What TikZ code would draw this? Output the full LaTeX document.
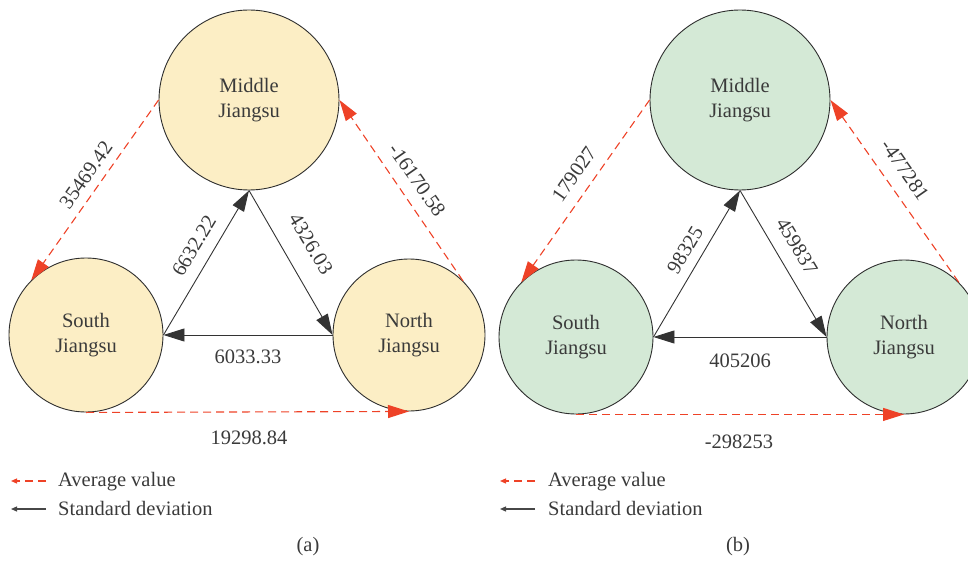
\documentclass[tikz,border=0pt]{standalone}
\usepackage{fontspec}
\setmainfont{Liberation Serif}
\usetikzlibrary{arrows.meta}
\definecolor{fillA}{HTML}{FCEEC5}
\definecolor{fillB}{HTML}{D4E9D6}
\definecolor{avgred}{HTML}{EE4227}
\definecolor{edgegray}{HTML}{2E2E2E}
\definecolor{arrowgray}{HTML}{333333}
\definecolor{txtgray}{HTML}{3A3A3A}
\begin{document}
\begin{tikzpicture}[x=1pt,y=-1pt,
  font=\fontsize{20.5}{25}\selectfont,
  region/.style={circle, draw=edgegray, line width=0.9pt, minimum size=#1,
    inner sep=0pt, align=center, text=txtgray},
  sdarrow/.style={draw=arrowgray, line width=0.9pt,
    -{Triangle[length=21pt,width=13pt]}},
  avgarrow/.style={draw=avgred, line width=1.1pt, dash pattern=on 8pt off 5pt,
    -{Triangle[length=21pt,width=13pt]}},
  sdleg/.style={draw=arrowgray!90, line width=1.2pt,
    -{Triangle[length=6pt,width=5pt]}},
  avgleg/.style={draw=avgred, line width=1.2pt, dash pattern=on 8pt off 5pt,
    -{Triangle[length=6pt,width=5pt]}},
  val/.style={text=txtgray, inner sep=0pt},
  legtext/.style={text=txtgray, inner sep=0pt, anchor=base west},
]
\useasboundingbox (0,0) rectangle (968,561);
\clip (0,0) rectangle (968,561);

% ---------- panel (a) ----------
\node[region=180pt, fill=fillA] (aM) at (249,100) {Middle\\Jiangsu};
\node[region=154pt, fill=fillA] (aS) at (86,335) {South\\Jiangsu};
\node[region=152pt, fill=fillA] (aN) at (409,335) {North\\Jiangsu};

\draw[sdarrow] (aS.east) -- (aM.south);
\draw[sdarrow] (aM.south) -- (aN.west);
\draw[sdarrow] (aN.west) -- (aS.east);
\draw[avgarrow] (aM.west) -- (aS.135);
\draw[avgarrow] (aS.south) -- (aN.south);
\draw[avgarrow] (aN.45) -- (aM.east);

\node[val, rotate=55] (aV1) at (86,175) {35469.42};
\node[val, rotate=-55] (aV2) at (417,180) {-16170.58};
\node[val, rotate=59] (aS1) at (194,246) {6632.22};
\node[val, rotate=-59] (aS2) at (311,244) {4326.03};
\node[val] (aS3) at (248,357) {6033.33};
\node[val] (aV3) at (249,438) {19298.84};

% legend (a)
\coordinate (aLr1) at (46,481);
\coordinate (aLr2) at (11,481);
\coordinate (aLb1) at (46,509);
\coordinate (aLb2) at (11,509);
\draw[avgleg] (aLr1) -- (aLr2);
\draw[sdleg] (aLb1) -- (aLb2);
\node[legtext] (aT1) at (58,486) {Average value};
\node[legtext] (aT2) at (58,515) {Standard deviation};
\node[val] (aCap) at (308,547) {(a)};

% ---------- panel (b) ----------
\node[region=180pt, fill=fillB] (bM) at (740,100) {Middle\\Jiangsu};
\node[region=154pt, fill=fillB] (bS) at (576,337) {South\\Jiangsu};
\node[region=154pt, fill=fillB] (bN) at (904,337) {North\\Jiangsu};

\draw[sdarrow] (bS.east) -- (bM.south);
\draw[sdarrow] (bM.south) -- (bN.west);
\draw[sdarrow] (bN.west) -- (bS.east);
\draw[avgarrow] (bM.west) -- (bS.135);
\draw[avgarrow] (bS.south) -- (bN.south);
\draw[avgarrow] (bN.45) -- (bM.east);

\node[val, rotate=55] (bV1) at (574,174) {179027};
\node[val, rotate=-55] (bV2) at (905,170) {-477281};
\node[val, rotate=59] (bS1) at (685,250) {98325};
\node[val, rotate=-59] (bS2) at (797,246) {459837};
\node[val] (bS3) at (740,361) {405206};
\node[val] (bV3) at (739,442) {-298253};

% legend (b)
\coordinate (bLr1) at (535,481);
\coordinate (bLr2) at (500,481);
\coordinate (bLb1) at (535,509);
\coordinate (bLb2) at (500,509);
\draw[avgleg] (bLr1) -- (bLr2);
\draw[sdleg] (bLb1) -- (bLb2);
\node[legtext] (bT1) at (548,486) {Average value};
\node[legtext] (bT2) at (548,515) {Standard deviation};
\node[val] (bCap) at (738,547) {(b)};
\end{tikzpicture}
\end{document}
